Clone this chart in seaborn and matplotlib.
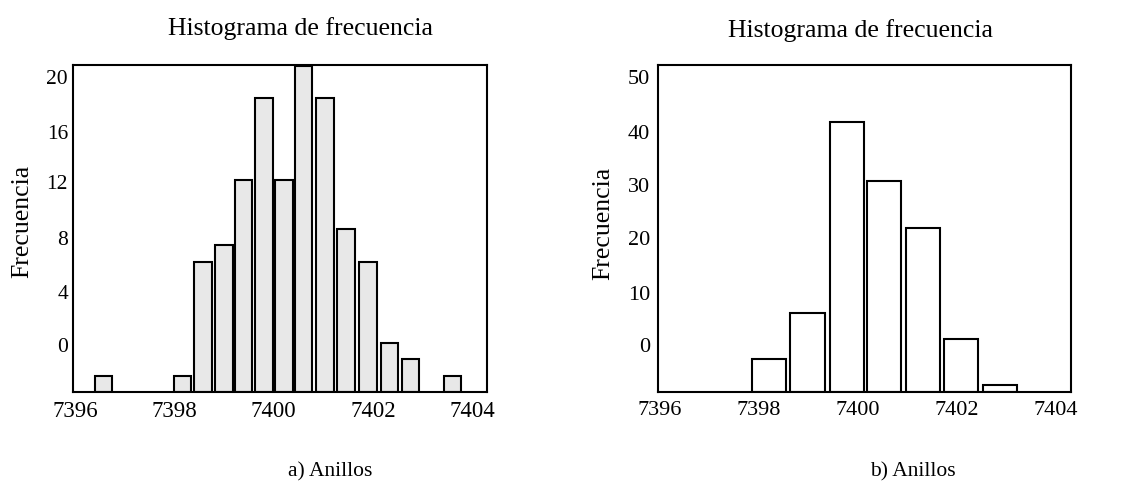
import numpy as np
import pandas as pd
import matplotlib
matplotlib.use("Agg")
import matplotlib.pyplot as plt
import seaborn as sns

# ---------------- data ----------------
ring_bin_centers_a = [7396.58, 7398.16, 7398.58, 7399.00, 7399.40, 7399.81, 7400.21,
                      7400.60, 7401.04, 7401.46, 7401.90, 7402.34, 7402.76, 7403.60]
ring_counts_a = [1, 1, 8, 9, 13, 18, 13, 20, 18, 10, 8, 3, 2, 1]

ring_bin_centers_b = [7398.20, 7398.98, 7399.77, 7400.53, 7401.31, 7402.08, 7402.86]
ring_counts_b = [5, 12, 41, 32, 25, 8, 1]

x_ticks = [7396, 7398, 7400, 7402, 7404]
y_tick_labels_a = ["0", "4", "8", "12", "16", "20"]
y_tick_labels_b = ["0", "10", "20", "30", "40", "50"]

title_text = "Histograma de frecuencia"
ylabel_text = "Frecuencia"
caption_a = "a) Anillos"
caption_b = "b) Anillos"

# ---------------- style ----------------
sns.set_theme(style="white")
plt.rcParams["font.family"] = ["Liberation Serif", "DejaVu Serif"]
plt.rcParams["text.color"] = "black"
plt.rcParams["axes.labelcolor"] = "black"
plt.rcParams["xtick.color"] = "black"
plt.rcParams["ytick.color"] = "black"

W, H = 1123, 482
fig = plt.figure(figsize=(W / 100, H / 100), dpi=100)


def px_axes(left, top, right, bottom):
    return fig.add_axes([left / W, 1 - bottom / H, (right - left) / W, (bottom - top) / H])


def draw_panel(ax, centers, counts, bar_w, face, ymax, tick_fracs, ylabels,
               xt_size, yt_size, ypad, ylab_xy):
    df = pd.DataFrame({"centro": centers, "frecuencia": counts})
    native = np.diff(np.sort(np.asarray(centers))).min()
    sns.barplot(data=df, x="centro", y="frecuencia", native_scale=True, orient="x",
                width=bar_w / native, color=face, saturation=1, errorbar=None,
                edgecolor="black", linewidth=1.5, ax=ax)
    ax.set_xlim(7395.96, 7404.3)
    ax.set_ylim(0, ymax)
    ax.set_xticks(x_ticks)
    ax.set_xticklabels([str(t) for t in x_ticks], fontsize=xt_size, color="black")
    ax.set_yticks([f * ymax for f in tick_fracs])
    ax.set_yticklabels(ylabels, fontsize=yt_size, color="black")
    ax.tick_params(axis="both", length=0)
    ax.tick_params(axis="x", pad=6.5)
    ax.tick_params(axis="y", pad=ypad)
    ax.set_xlabel("")
    ax.set_ylabel(ylabel_text, fontsize=18.5, color="black")
    ax.yaxis.label.set_verticalalignment("center")
    ax.yaxis.label.set_horizontalalignment("center")
    ax.yaxis.set_label_coords(*ylab_xy)
    for s in ax.spines.values():
        s.set_visible(True)
        s.set_color("black")
        s.set_linewidth(1.5)
    ax.grid(False)


ax1 = px_axes(73, 65, 487, 392)
draw_panel(ax1, ring_bin_centers_a, ring_counts_a, 0.35, "#e8e8e8", 20.05,
           [0.144, 0.307, 0.470, 0.643, 0.796, 0.964], y_tick_labels_a,
           16.5, 15.5, 3.6, (-0.123, 0.521))

ax2 = px_axes(658, 65, 1071, 392)
draw_panel(ax2, ring_bin_centers_b, ring_counts_b, 0.69, "white", 49.7,
           [0.144, 0.304, 0.470, 0.633, 0.796, 0.964], y_tick_labels_b,
           16, 16, 5.8, (-0.132, 0.515))

# titles and captions
fig.text(301 / W, 1 - 35 / H, title_text, ha="center", va="baseline", fontsize=18.5, color="black")
fig.text(861 / W, 1 - 37 / H, title_text, ha="center", va="baseline", fontsize=18.5, color="black")
fig.text(330 / W, 1 - 476 / H, caption_a, ha="center", va="baseline", fontsize=15.5, color="black")
fig.text(913 / W, 1 - 476 / H, caption_b, ha="center", va="baseline", fontsize=15.5, color="black")

fig.savefig("out.png", dpi=100, facecolor="white")
